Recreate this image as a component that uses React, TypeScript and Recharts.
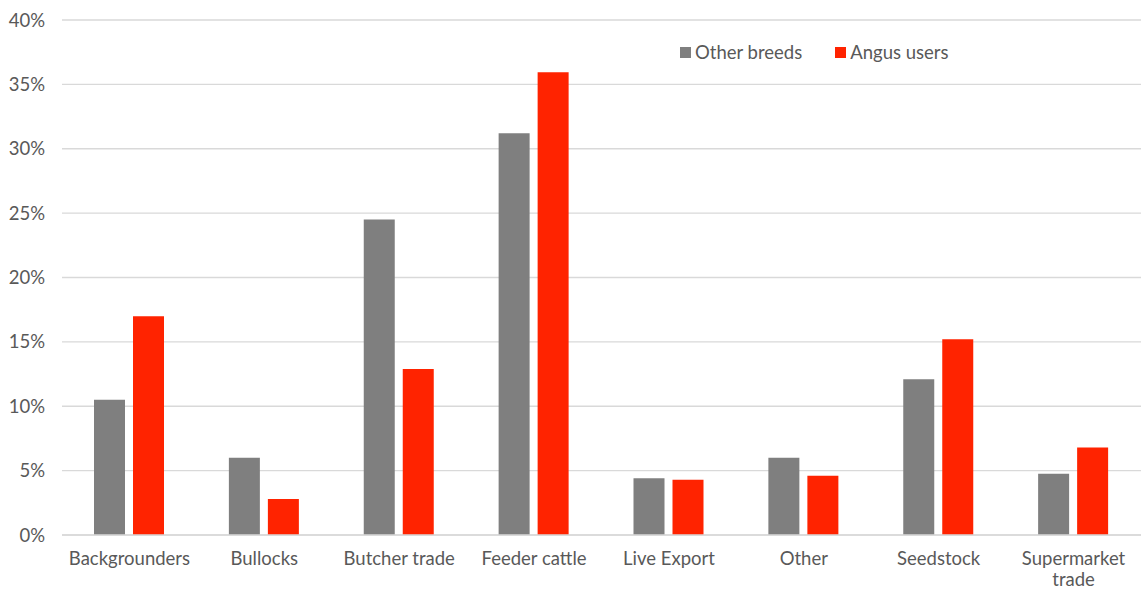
import { BarChart, Bar, XAxis, YAxis, CartesianGrid } from 'recharts';

const categories = ['Backgrounders', 'Bullocks', 'Butcher trade', 'Feeder cattle', 'Live Export', 'Other', 'Seedstock', 'Supermarket trade'];
const otherBreeds = [10.5, 6.0, 24.5, 31.2, 4.4, 6.0, 12.1, 4.75];
const angusUsers = [17.0, 2.8, 12.9, 35.95, 4.3, 4.6, 15.2, 6.8];
const yTicks = [0, 5, 10, 15, 20, 25, 30, 35, 40];

const GREY = '#7f7f7f';
const RED = '#ff2300';
const TEXT = '#595959';
const FONT = 'Lato, "Open Sans", sans-serif';
const FS = 18.5;

const data = categories.map((name, i) => ({
  name,
  other: otherBreeds[i],
  angus: angusUsers[i],
}));

// long labels wrap onto two lines, like the spreadsheet does
const CategoryTick = (props: any) => {
  const { x, y, payload } = props;
  const label: string = payload.value;
  const lines = label.length > 14 ? label.split(' ') : [label];
  return (
    <text x={x} y={y} textAnchor="middle" fill={TEXT} fontSize={FS} fontFamily={FONT}>
      {lines.map((l, i) => (
        <tspan key={i} x={x} dy={i === 0 ? 22 : 21}>
          {l}
        </tspan>
      ))}
    </text>
  );
};

const LegendBox = () => (
  <div
    style={{
      position: 'absolute',
      top: 41,
      left: 680,
      display: 'flex',
      alignItems: 'center',
      fontFamily: FONT,
      fontSize: FS,
      color: TEXT,
      whiteSpace: 'nowrap',
    }}
  >
    <span style={{ width: 11, height: 11, background: GREY, marginRight: 4, display: 'inline-block' }} />
    <span style={{ marginRight: 33 }}>Other breeds</span>
    <span style={{ width: 11, height: 11, background: RED, marginRight: 4, display: 'inline-block' }} />
    <span>Angus users</span>
  </div>
);

const App = () => {
  return (
    <div style={{ position: 'fixed', left: 0, top: 0, width: 1141, height: 591, background: '#fff' }}>
      <BarChart
        width={1141}
        height={591}
        data={data}
        margin={{ top: 20, right: 0, bottom: 0, left: 0 }}
        barSize={31}
        barGap={8}
      >
        <CartesianGrid vertical={false} stroke="#d9d9d9" strokeWidth={1.3} />
        <XAxis
          dataKey="name"
          axisLine={{ stroke: '#d9d9d9', strokeWidth: 1.3 }}
          tickLine={false}
          tick={<CategoryTick />}
          interval={0}
          height={56}
        />
        <YAxis
          domain={[0, 40]}
          ticks={yTicks}
          axisLine={false}
          tickLine={false}
          width={62}
          tickMargin={11}
          tickFormatter={(v: number) => `${v}%`}
          tick={{ fill: TEXT, fontSize: FS, fontFamily: FONT }}
        />
        <Bar dataKey="other" name="Other breeds" fill={GREY} isAnimationActive={false} />
        <Bar dataKey="angus" name="Angus users" fill={RED} isAnimationActive={false} />
      </BarChart>
      <LegendBox />
    </div>
  );
};

export default App;
